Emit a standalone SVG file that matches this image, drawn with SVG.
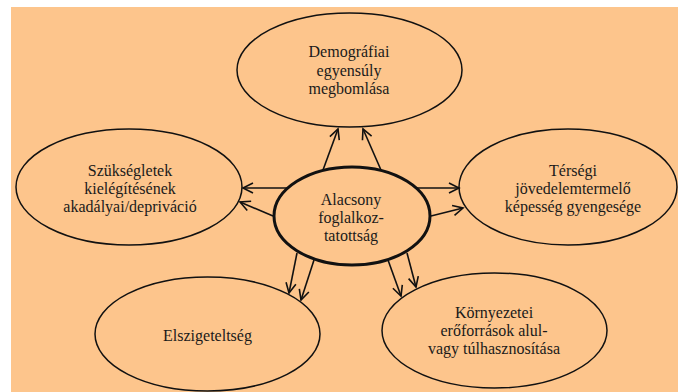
<svg xmlns="http://www.w3.org/2000/svg" width="678" height="392" viewBox="0 0 678 392">
<defs>
<style>
.n{fill:none;stroke:#111;stroke-width:1.5}
.c{fill:none;stroke:#111;stroke-width:3}
.t{font-family:"Liberation Serif","Times New Roman",serif;font-size:16px;fill:#1a1a1a;text-anchor:middle}
.a{stroke:#111;stroke-width:1.6;fill:none;marker-end:url(#ah)}
</style>
<marker id="ah" markerUnits="userSpaceOnUse" markerWidth="14" markerHeight="14" refX="11" refY="6" orient="auto">
<path d="M1,1 L11,6 L1,11" fill="none" stroke="#111" stroke-width="1.6"/>
</marker>
</defs>
<rect x="0" y="0" width="678" height="392" fill="#ffffff"/>
<rect x="11" y="7" width="667" height="385" fill="#fdc58c"/>
<g id="connectors">
<line class="a" x1="323" y1="170" x2="338" y2="129"/>
<line class="a" x1="381" y1="170" x2="363" y2="129"/>
<line class="a" x1="287" y1="188" x2="243" y2="188"/>
<line class="a" x1="273" y1="216" x2="240" y2="202"/>
<line class="a" x1="417" y1="188" x2="459" y2="188"/>
<line class="a" x1="431" y1="216" x2="463" y2="208"/>
<line class="a" x1="297" y1="253" x2="289" y2="293"/>
<line class="a" x1="314" y1="260" x2="301" y2="300"/>
<line class="a" x1="388" y1="260" x2="401" y2="296"/>
<line class="a" x1="407" y1="253" x2="416" y2="287"/>
</g>
<g id="top">
<ellipse class="n" cx="349.5" cy="70" rx="112.5" ry="57"/>
<text class="t" x="349" y="57">Demográfiai</text>
<text class="t" x="349" y="75.5">egyensúly</text>
<text class="t" x="349" y="94">megbomlása</text>
</g>
<g id="left">
<ellipse class="n" cx="129" cy="187" rx="113" ry="58"/>
<text class="t" x="130" y="175.5">Szükségletek</text>
<text class="t" x="130" y="193.5">kielégítésének</text>
<text class="t" x="130" y="212">akadályai/depriváció</text>
</g>
<g id="right">
<ellipse class="n" cx="568" cy="187" rx="109" ry="58"/>
<text class="t" x="573" y="175.5">Térségi</text>
<text class="t" x="573" y="193.5">jövedelemtermelő</text>
<text class="t" x="573" y="212">képesség gyengesége</text>
</g>
<g id="center">
<ellipse class="c" cx="352" cy="216" rx="78" ry="49"/>
<text class="t" x="351" y="204.5">Alacsony</text>
<text class="t" x="351" y="222.5">foglalkoz-</text>
<text class="t" x="351" y="240.5">tatottság</text>
</g>
<g id="bottomleft">
<ellipse class="n" cx="207.5" cy="334" rx="112.5" ry="57"/>
<text class="t" x="207.5" y="340.5">Elszigeteltség</text>
</g>
<g id="bottomright">
<ellipse class="n" cx="494.5" cy="330.5" rx="112.5" ry="57.5"/>
<text class="t" x="494" y="317.5">Környezetei</text>
<text class="t" x="494" y="335.5">erőforrások alul-</text>
<text class="t" x="494" y="354">vagy túlhasznosítása</text>
</g>
</svg>
